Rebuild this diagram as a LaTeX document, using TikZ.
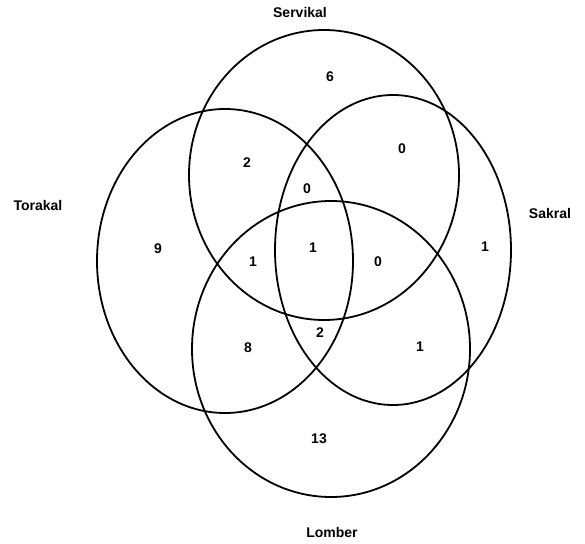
\documentclass[tikz,border=0pt]{standalone}
\usepackage{fontspec}
\setmainfont{Liberation Sans}
\usetikzlibrary{shapes.geometric}
\begin{document}
\begin{tikzpicture}[x=1pt,y=-1pt,
  setring/.style={draw=black, line width=1.8pt, ellipse, inner sep=0pt, outer sep=0pt},
  num/.style={font=\bfseries\fontsize{14}{14}\selectfont, inner sep=0pt},
  lbl/.style={font=\bfseries\fontsize{14}{14}\selectfont, inner sep=0pt}]
\useasboundingbox (0,0) rectangle (585,543);
\fill[white] (0,0) rectangle (585,543);
% sets
\node[setring, minimum width=270pt, minimum height=290pt] (serv) at (324,175) {};
\node[setring, minimum width=256pt, minimum height=304pt] (tor) at (225,261) {};
\node[setring, minimum width=236pt, minimum height=310pt] (sak) at (393,250) {};
\node[setring, minimum width=278pt, minimum height=296pt] (lom) at (331,349) {};
% labels
\node[lbl] (lserv) at (300,12) {Servikal};
\node[lbl] (ltor) at (38,205) {Torakal};
\node[lbl] (lsak) at (550,213) {Sakral};
\node[lbl] (llom) at (332,532) {Lomber};
% counts
\node[num] (n1) at (330,77) {6};
\node[num] (n2) at (247,163) {2};
\node[num] (n3) at (402,149) {0};
\node[num] (n4) at (307,189) {0};
\node[num] (n5) at (158,249) {9};
\node[num] (n6) at (253,262) {1};
\node[num] (n7) at (313,248) {1};
\node[num] (n8) at (378,262) {0};
\node[num] (n9) at (485,247) {1};
\node[num] (n10) at (248,348) {8};
\node[num] (n11) at (320,333) {2};
\node[num] (n12) at (420,347) {1};
\node[num] (n13) at (319,439) {13};
\end{tikzpicture}
\end{document}
